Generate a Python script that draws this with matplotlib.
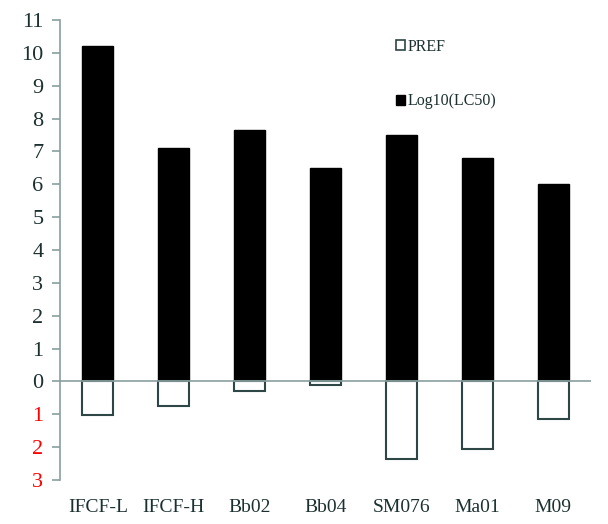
import matplotlib.pyplot as plt
from matplotlib.patches import Patch

# values
strains = ['IFCF-L', 'IFCF-H', 'Bb02', 'Bb04', 'SM076', 'Ma01', 'M09']
log_lc50 = [10.2, 7.1, 7.65, 6.5, 7.5, 6.8, 6.0]
pref = [-1.03, -0.75, -0.28, -0.1, -2.35, -2.05, -1.15]
ytick_vals = list(range(-3, 12))
ytick_text = ['3', '2', '1'] + [str(v) for v in range(0, 12)]

plt.rcParams['font.family'] = ['Liberation Serif', 'DejaVu Serif']

AXIS_C = '#8a9e9e'
TEXT_C = '#1c3030'
EDGE_C = '#2e4646'

fig = plt.figure(figsize=(6.08, 5.24), dpi=100)
ax = fig.add_axes([60 / 608, 1 - 480 / 524, 531 / 608, 460 / 524])

x = range(len(strains))
w = 0.41
ax.bar(x, log_lc50, width=w, color='black', edgecolor='black', linewidth=1, zorder=2)
ax.bar(x, pref, width=w, color='white', edgecolor=EDGE_C, linewidth=1.5, zorder=2)
ax.axhline(0, color=AXIS_C, linewidth=1.2, zorder=3)

ax.set_xlim(-0.5, len(strains) - 0.5)
ax.set_ylim(-3, 11)

for s in ['top', 'right', 'bottom']:
    ax.spines[s].set_visible(False)
ax.spines['left'].set_color(AXIS_C)
ax.spines['left'].set_linewidth(1.2)

ax.set_yticks(ytick_vals)
ax.set_yticklabels(ytick_text, fontsize=16, color=TEXT_C)
for lbl, v in zip(ax.get_yticklabels(), ytick_vals):
    if v < 0:
        lbl.set_color('red')
ax.tick_params(axis='y', direction='out', length=6, width=1.2, color=AXIS_C, pad=6)

ax.set_xticks(list(x))
ax.set_xticklabels(strains, fontsize=14, color=TEXT_C)
ax.tick_params(axis='x', length=0, pad=14)

handles = [Patch(facecolor='white', edgecolor=EDGE_C, linewidth=1.2, label='PREF'),
           Patch(facecolor='black', edgecolor='black', label='Log10(LC50)')]
leg = ax.legend(handles=handles, loc='upper left', bbox_to_anchor=(0.605, 0.99),
                frameon=False, fontsize=11.5, handlelength=0.6, handleheight=0.6,
                handletextpad=0.15, labelspacing=2.4)
for t in leg.get_texts():
    t.set_color(TEXT_C)

fig.savefig('out.png', dpi=100)
